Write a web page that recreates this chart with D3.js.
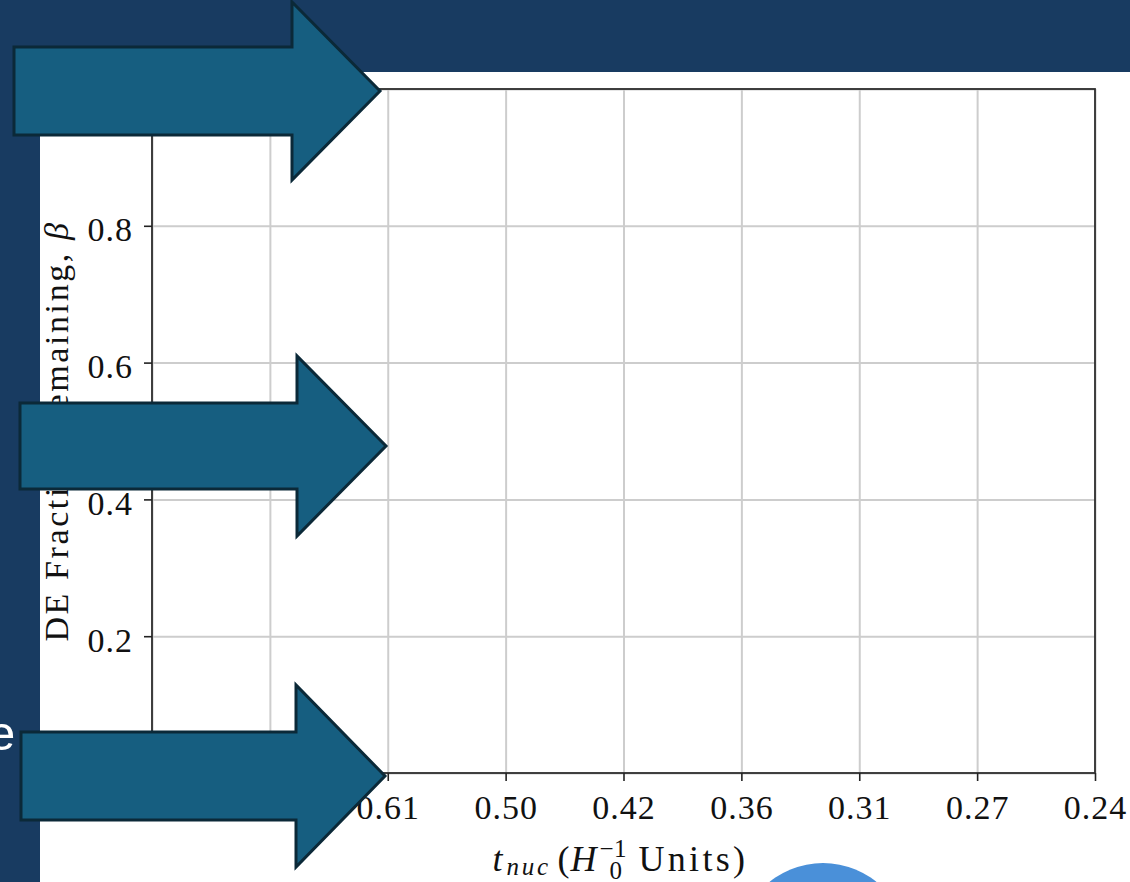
<!DOCTYPE html>
<html><head><meta charset="utf-8">
<script src="https://cdn.jsdelivr.net/npm/d3@7"></script>
<style>html,body{margin:0;padding:0;background:#fff;overflow:hidden}</style>
</head><body>
<svg id="c" width="1130" height="882"></svg>
<script>
// ---- data ----
const xTickLabels = ["0.86", "0.74", "0.61", "0.50", "0.42", "0.36", "0.31", "0.27", "0.24"];
const yTickValues = [0, 0.2, 0.4, 0.6, 0.8, 1.0];
const yDomain = [0, 1];
const yTitleText = "DE Fraction Remaining, ";
const yTitleSymbol = "β";

// ---- layout ----
const W = 1130, H = 882;
const plot = {left: 152, right: 1095, top: 89, bottom: 773};
const NAVY = "#183b61", ARROW_FILL = "#165e80", ARROW_STROKE = "#0b2938";
const SERIF = "'Liberation Serif','Times New Roman',serif";

const svg = d3.select("#c");
svg.append("rect").attr("width", W).attr("height", H).attr("fill", "#fff");

const x = d3.scalePoint().domain(xTickLabels).range([plot.left, plot.right]).padding(0);
const y = d3.scaleLinear().domain(yDomain).range([plot.bottom, plot.top]);

// grid
const grid = svg.append("g");
grid.append("g").attr("transform", `translate(0,${plot.bottom})`)
  .call(d3.axisBottom(x).tickSize(-(plot.bottom - plot.top)).tickFormat(""))
  .call(g => g.select(".domain").remove())
  .selectAll("line").attr("stroke", "#cdcdcd").attr("stroke-width", 2);
grid.append("g").attr("transform", `translate(${plot.left},0)`)
  .call(d3.axisLeft(y).tickValues(yTickValues).tickSize(-(plot.right - plot.left)).tickFormat(""))
  .call(g => g.select(".domain").remove())
  .selectAll("line").attr("stroke", "#cdcdcd").attr("stroke-width", 2);

// frame
svg.append("rect").attr("x", plot.left).attr("y", plot.top)
  .attr("width", plot.right - plot.left).attr("height", plot.bottom - plot.top)
  .attr("fill", "none").attr("stroke", "#2e2e2e").attr("stroke-width", 1.8);

// axes
const xa = svg.append("g").attr("transform", `translate(0,${plot.bottom})`)
  .call(d3.axisBottom(x).tickSize(8).tickPadding(14));
const ya = svg.append("g").attr("transform", `translate(${plot.left},0)`)
  .call(d3.axisLeft(y).tickValues(yTickValues).tickSize(8).tickPadding(11).tickFormat(d3.format(".1f")));
[xa, ya].forEach(a => {
  a.select(".domain").remove();
  a.selectAll(".tick line").attr("stroke", "#222").attr("stroke-width", 1.6);
  a.selectAll(".tick text").attr("fill", "#111").style("font-family", SERIF)
    .style("font-size", "34px").style("letter-spacing", "1px");
});
ya.selectAll(".tick text").attr("dy", "0.44em");

// y title
const ytEl = svg.append("text")
  .attr("transform", `translate(68,${(plot.top + plot.bottom) / 2}) rotate(-90)`)
  .attr("text-anchor", "middle").attr("fill", "#111")
  .style("font-family", SERIF).style("font-size", "34px").style("letter-spacing", "2.6px");
ytEl.append("tspan").text(yTitleText);
ytEl.append("tspan").style("font-style", "italic").text(yTitleSymbol);

// x title: t_nuc (H_0^{-1} Units), pieces placed relative to the axis centre
const cx = (plot.left + plot.right) / 2;
const xTitleParts = [
  {t: "t",      dx: -131, y: 871, size: 36, italic: true,  ls: 0},
  {t: "nuc",    dx: -117, y: 875, size: 25, italic: true,  ls: 2.8},
  {t: "(",      dx: -66,  y: 871, size: 36, italic: false, ls: 0},
  {t: "H",      dx: -53,  y: 871, size: 36, italic: true,  ls: 0},
  {t: "−1",     dx: -24,  y: 857, size: 25, italic: false, ls: 0.5},
  {t: "0",      dx: -14,  y: 879, size: 25, italic: false, ls: 0},
  {t: "Units)", dx: 15,   y: 871, size: 36, italic: false, ls: 3.3}
];
const xt = svg.append("text").attr("fill", "#111").style("font-family", SERIF);
xt.selectAll("tspan").data(xTitleParts).join("tspan")
  .attr("x", d => cx + d.dx).attr("y", d => d.y)
  .style("font-size", d => d.size + "px")
  .style("font-style", d => d.italic ? "italic" : "normal")
  .style("letter-spacing", d => d.ls + "px")
  .text(d => d.t);

// navy slide bands
svg.append("rect").attr("x", 0).attr("y", 0).attr("width", W).attr("height", 72).attr("fill", NAVY);
svg.append("rect").attr("x", 0).attr("y", 0).attr("width", 40).attr("height", H).attr("fill", NAVY);

// partial slide text
svg.append("text").attr("x", -12).attr("y", 750).attr("fill", "#fff")
  .style("font-family", "'Liberation Sans',Arial,sans-serif").style("font-size", "49px").text("e");

// arrows (slide decorations)
const arrows = [
  {x0: 14, x1: 292, tip: 380, cy: 91, body: 44, head: 89},
  {x0: 20, x1: 297, tip: 386, cy: 446, body: 43, head: 90},
  {x0: 21, x1: 296, tip: 385, cy: 776, body: 44, head: 91}
];
svg.append("g").selectAll("path").data(arrows).join("path")
  .attr("d", a => `M${a.x0},${a.cy - a.body}H${a.x1}V${a.cy - a.head}L${a.tip},${a.cy}L${a.x1},${a.cy + a.head}V${a.cy + a.body}H${a.x0}Z`)
  .attr("fill", ARROW_FILL).attr("stroke", ARROW_STROKE).attr("stroke-width", 3).attr("stroke-linejoin", "miter");

// blue circle
svg.append("circle").attr("cx", 823).attr("cy", 948).attr("r", 85).attr("fill", "#4a90d9");
</script>
</body></html>
